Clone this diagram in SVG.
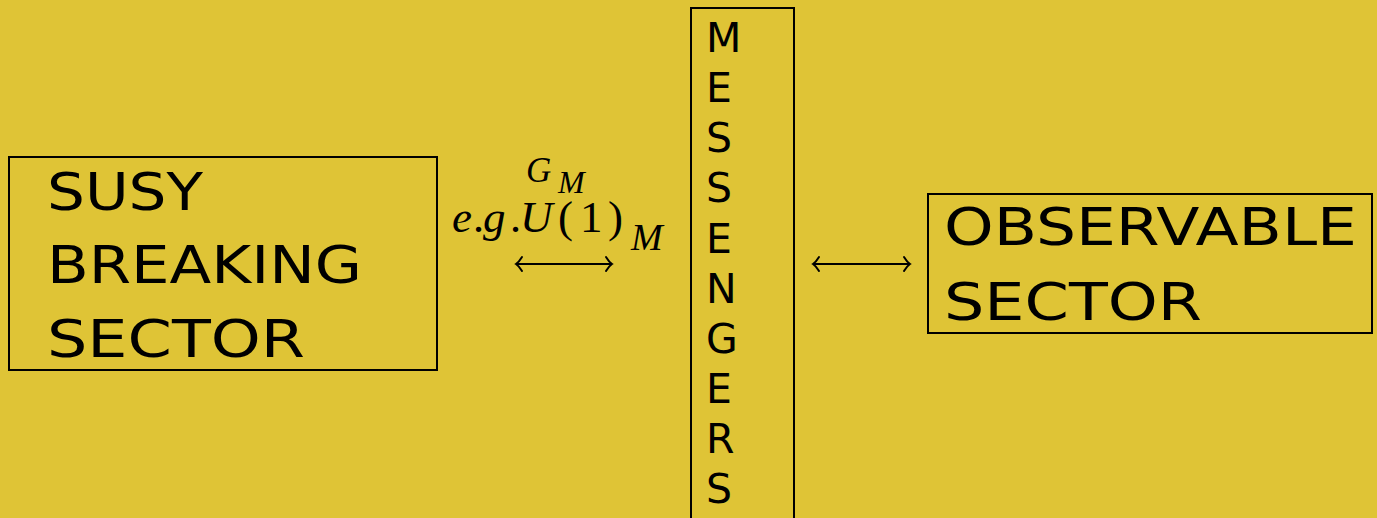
<svg xmlns="http://www.w3.org/2000/svg" width="1377" height="518" viewBox="0 0 1377 518">
<style>
.box{fill:none;stroke:#000;stroke-width:2}
.big{font-family:"DejaVu Sans","Liberation Sans",sans-serif;font-size:52px;fill:#000}
.mes{font-family:"DejaVu Sans","Liberation Sans",sans-serif;font-size:41px;fill:#000}
.math{font-family:"Liberation Serif","DejaVu Serif",serif;fill:#000}
.it{font-style:italic}
.arr{fill:none;stroke:#000;stroke-width:2;stroke-linecap:round}
</style>
<rect width="1377" height="518" fill="#dfc436"/>
<g id="susy">
<rect class="box" x="9" y="157" width="428" height="213"/>
<text class="big" x="47" y="210" textLength="156" lengthAdjust="spacingAndGlyphs">SUSY</text>
<text class="big" x="47" y="283" textLength="315" lengthAdjust="spacingAndGlyphs">BREAKING</text>
<text class="big" x="47" y="357" textLength="258" lengthAdjust="spacingAndGlyphs">SECTOR</text>
</g>
<g id="messengers">
<rect class="box" x="691" y="8" width="103" height="520"/>
<text class="mes" x="706" y="52">M</text>
<text class="mes" x="706" y="102">E</text>
<text class="mes" x="706" y="152">S</text>
<text class="mes" x="706" y="202">S</text>
<text class="mes" x="706" y="253">E</text>
<text class="mes" x="706" y="303">N</text>
<text class="mes" x="706" y="353">G</text>
<text class="mes" x="706" y="403">E</text>
<text class="mes" x="706" y="453">R</text>
<text class="mes" x="706" y="503">S</text>
</g>
<g id="observable">
<rect class="box" x="928" y="194" width="444" height="139"/>
<text class="big" x="944" y="245" textLength="413" lengthAdjust="spacingAndGlyphs">OBSERVABLE</text>
<text class="big" x="944" y="320" textLength="258" lengthAdjust="spacingAndGlyphs">SECTOR</text>
</g>
<g id="label">
<text class="math it" x="526" y="182" font-size="35">G</text>
<text class="math it" x="558" y="193" font-size="32">M</text>
<text class="math it" x="452" y="232" font-size="45">e<tspan x="474">.</tspan><tspan x="483">g</tspan><tspan x="511">.</tspan><tspan x="520">U</tspan></text>
<text class="math" x="558" y="232" font-size="45">(<tspan x="580">1</tspan><tspan x="608">)</tspan></text>
<text class="math it" x="631" y="250" font-size="38">M</text>
</g>
<g id="connectors">
<path class="arr" d="M516,264 H612 M522,257 Q519,262 516,264 Q519,266 522,271 M606,257 Q609,262 612,264 Q609,266 606,271"/>
<path class="arr" d="M813,264 H910 M819,257 Q816,262 813,264 Q816,266 819,271 M904,257 Q907,262 910,264 Q907,266 904,271"/>
</g>
</svg>
